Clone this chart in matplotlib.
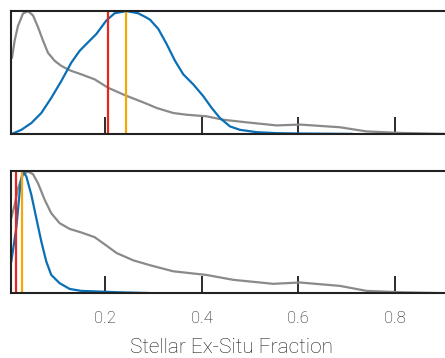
import matplotlib
matplotlib.use("Agg")
import matplotlib.pyplot as plt

plt.rcParams['font.family'] = ['Roboto', 'DejaVu Sans']

# top panel: grey and blue normalised distributions, red/orange markers
top_grey_x = [0.0077, 0.0132, 0.0201, 0.0304, 0.0407, 0.0511, 0.0614, 0.0718, 0.0821,
              0.0960, 0.1096, 0.1270, 0.1510, 0.1787, 0.2062, 0.2407, 0.2821, 0.3069,
              0.3413, 0.3690, 0.4103, 0.4447, 0.4931, 0.5551, 0.6030, 0.6860, 0.7410,
              0.8100, 0.9030]
top_grey_y = [0.62, 0.76, 0.88, 0.98, 1.0, 0.965, 0.87, 0.76, 0.66,
              0.595, 0.554, 0.518, 0.485, 0.444, 0.376, 0.316, 0.252, 0.211,
              0.17, 0.156, 0.143, 0.115, 0.094, 0.069, 0.076, 0.054, 0.02,
              0.008, 0.0]
top_blue_x = [0.0077, 0.0269, 0.0476, 0.0683, 0.0889, 0.1096, 0.1303, 0.1477, 0.1648,
              0.1820, 0.2027, 0.2201, 0.2441, 0.2683, 0.2821, 0.2931, 0.3102, 0.3276,
              0.3448, 0.3619, 0.3826, 0.4033, 0.4207, 0.4378, 0.4585, 0.4792, 0.5137,
              0.5551, 0.6030, 0.7100]
top_blue_y = [0.0, 0.033, 0.088, 0.17, 0.293, 0.43, 0.58, 0.677, 0.745,
              0.813, 0.923, 0.983, 1.0, 0.983, 0.955, 0.93, 0.855, 0.731,
              0.595, 0.485, 0.403, 0.307, 0.211, 0.129, 0.061, 0.033, 0.014,
              0.006, 0.003, 0.0]
top_red = 0.2062
top_orange = 0.2441

# bottom panel
bot_grey_x = [0.0062, 0.0132, 0.0201, 0.0304, 0.0407, 0.0511, 0.0614, 0.0753, 0.0889,
              0.1063, 0.1270, 0.1510, 0.1787, 0.2027, 0.2240, 0.2585, 0.2930, 0.3410,
              0.4100, 0.4650, 0.5480, 0.6030, 0.6860, 0.7410, 0.8100, 0.9030]
bot_grey_y = [0.617, 0.726, 0.863, 0.973, 1.0, 0.978, 0.904, 0.767, 0.657,
              0.575, 0.528, 0.499, 0.46, 0.392, 0.33, 0.27, 0.23, 0.18,
              0.15, 0.11, 0.077, 0.088, 0.06, 0.019, 0.008, 0.0]
bot_blue_x = [0.0062, 0.0165, 0.0256, 0.0304, 0.0372, 0.0476, 0.0579, 0.0683, 0.0786,
              0.0889, 0.1063, 0.1270, 0.1510, 0.1855, 0.2240, 0.3030]
bot_blue_y = [0.26, 0.534, 0.918, 1.0, 0.96, 0.81, 0.617, 0.425, 0.26,
              0.15, 0.082, 0.035, 0.019, 0.014, 0.008, 0.0]
bot_red = 0.0165
bot_orange = 0.029

ticks = [0.2, 0.4, 0.6, 0.8]
tick_labels = ['0.2', '0.4', '0.6', '0.8']

grey = '#8a8a8a'
blue = '#0a6fb5'
red = '#e8261c'
orange = '#f5a70a'

fig = plt.figure(figsize=(4.45, 3.58), dpi=100)
ax1 = fig.add_axes([0.0247, 0.626, 0.99, 0.343])
ax2 = fig.add_axes([0.0247, 0.181, 0.99, 0.340])

panels = [
    (ax1, top_grey_x, top_grey_y, top_blue_x, top_blue_y, top_red, top_orange),
    (ax2, bot_grey_x, bot_grey_y, bot_blue_x, bot_blue_y, bot_red, bot_orange),
]
for ax, gx, gy, bx, by, r, o in panels:
    ax.plot(gx, gy, color=grey, lw=1.6, solid_joinstyle='round')
    ax.plot(bx, by, color=blue, lw=1.6, solid_joinstyle='round')
    ax.axvline(r, color=red, lw=1.6)
    ax.axvline(o, color=orange, lw=1.6)
    ax.set_xlim(0.0056, 0.9167)
    ax.set_ylim(0, 1)
    ax.set_yticks([])
    ax.set_xticks(ticks)
    ax.tick_params(axis='x', direction='in', length=12.5, width=1.3, color='#1a1a1a',
                   labelsize=12, pad=12.5)
    for s in ['top', 'left', 'bottom']:
        ax.spines[s].set_linewidth(1.5)
        ax.spines[s].set_color('#222222')
    ax.spines['right'].set_visible(False)

ax1.set_xticklabels([])
ax2.set_xticklabels(tick_labels, fontweight='light', color='#1a1a1a')
ax2.set_xlabel('Stellar Ex-Situ Fraction', fontsize=15, fontweight='light',
               color='#1a1a1a', labelpad=9)

fig.savefig('out.png', dpi=100)
